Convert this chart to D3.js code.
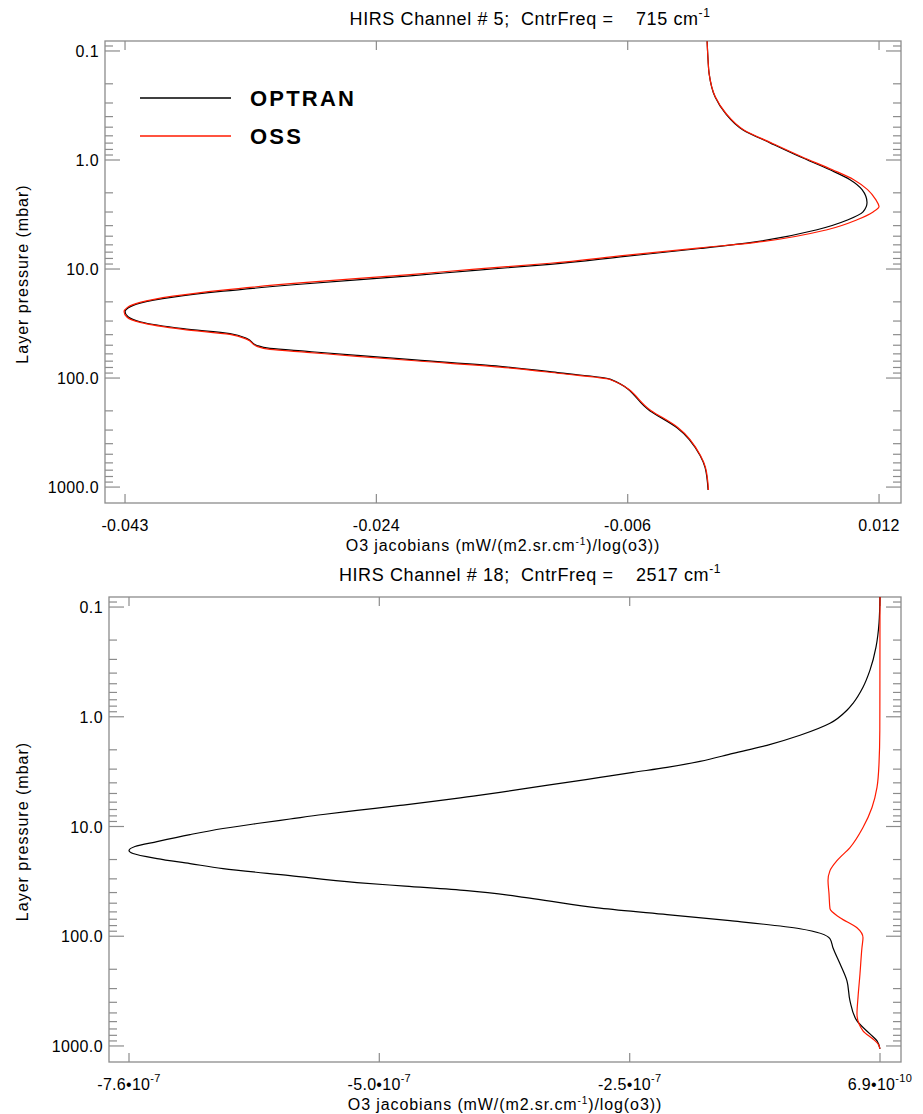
<!DOCTYPE html>
<html>
<head>
<meta charset="utf-8">
<script src="https://cdn.jsdelivr.net/npm/d3@7"></script>
<style>
  body { margin: 0; background: #fff; }
  svg text { font-family: "Liberation Sans", Arial, sans-serif; fill: #000; white-space: pre; }
</style>
</head>
<body>
<svg id="chart" width="923" height="1114"></svg>
<script>
// [pressure (mbar), O3 jacobian]

// HIRS channel 5
const ch5Optran = [
  [0.0815, -0.00040], [0.1216, -0.00033], [0.1598, -0.00026], [0.2646, 0.00018],
  [0.3705, 0.00090], [0.530, 0.00220], [0.696, 0.00416], [0.934, 0.00633],
  [1.229, 0.00850], [1.516, 0.00995], [1.871, 0.01082], [2.457, 0.01118],
  [2.996, 0.01089], [3.534, 0.00981], [4.361, 0.00756], [5.724, 0.00271],
  [6.483, -0.00091], [7.656, -0.00634], [9.062, -0.01177], [10.27, -0.01720],
  [11.56, -0.02191], [13.79, -0.02988], [15.98, -0.03545], [18.13, -0.03907],
  [20.57, -0.04146], [22.75, -0.04233], [24.71, -0.04255], [27.44, -0.04233],
  [30.46, -0.04146], [35.25, -0.03835], [39.13, -0.03495], [43.44, -0.03372],
  [50.24, -0.03299], [53.50, -0.03205], [56.96, -0.02937], [61.96, -0.02575],
  [68.2, -0.02155], [78.04, -0.01539], [89.7, -0.01105], [102.3, -0.00743],
  [200.1, -0.00453], [285.4, -0.00258], [514.0, -0.00091], [661.0, -0.00055],
  [1065, -0.00033]
];
const ch5Oss = [
  [0.0815, -0.00040], [0.1216, -0.00033], [0.1598, -0.00026], [0.2646, 0.00020],
  [0.3705, 0.00094], [0.530, 0.00226], [0.696, 0.00424], [0.934, 0.00645],
  [1.229, 0.00868], [1.516, 0.01022], [1.871, 0.01122], [2.300, 0.01180],
  [2.676, 0.01205], [2.996, 0.01162], [3.534, 0.01046], [4.361, 0.00829],
  [5.724, 0.00300], [6.40, -0.00091], [7.50, -0.00634], [8.85, -0.01177],
  [10.02, -0.01720], [11.25, -0.02191], [13.42, -0.02988], [15.60, -0.03545],
  [17.75, -0.03907], [20.25, -0.04146], [22.60, -0.04240], [24.71, -0.04262],
  [27.70, -0.04240], [30.90, -0.04146], [35.80, -0.03835], [39.80, -0.03495],
  [44.20, -0.03372], [51.20, -0.03299], [54.60, -0.03205], [58.10, -0.02937],
  [63.20, -0.02575], [69.40, -0.02155], [79.30, -0.01539], [90.80, -0.01105],
  [103.0, -0.00743], [199.0, -0.00445], [284.0, -0.00252], [514.0, -0.00088],
  [661.0, -0.00052], [1065, -0.00030]
];

// HIRS channel 18
const ch18Optran = [
  [0.081, 6.8e-10], [0.140, -3e-10], [0.232, -3.35e-9], [0.376, -9.4e-9],
  [0.538, -1.645e-8], [0.753, -2.65e-8], [0.872, -3.26e-8], [1.147, -4.97e-8],
  [1.475, -7.99e-8], [1.821, -1.132e-7], [2.154, -1.474e-7], [2.549, -1.807e-7],
  [2.892, -2.139e-7], [3.212, -2.482e-7], [3.567, -2.814e-7], [3.965, -3.147e-7],
  [4.404, -3.490e-7], [4.892, -3.822e-7], [5.377, -4.154e-7], [5.912, -4.497e-7],
  [6.430, -4.830e-7], [7.143, -5.263e-7], [7.770, -5.605e-7], [8.540, -5.938e-7],
  [9.390, -6.270e-7], [10.43, -6.613e-7], [11.84, -6.945e-7], [13.71, -7.278e-7],
  [15.23, -7.500e-7], [16.56, -7.560e-7], [17.64, -7.520e-7], [19.60, -7.278e-7],
  [21.77, -6.945e-7], [24.18, -6.613e-7], [28.03, -5.938e-7], [32.46, -5.263e-7],
  [34.95, -4.779e-7], [38.41, -4.154e-7], [45.45, -3.490e-7], [55.51, -2.814e-7],
  [63.64, -2.139e-7], [72.18, -1.505e-7], [85.41, -7.99e-8], [105.4, -4.97e-8],
  [127.4, -4.67e-8], [178.3, -3.96e-8], [254.9, -3.26e-8], [388.2, -2.955e-8],
  [591.0, -2.25e-8], [777.0, -9.4e-9], [900.0, -2.3e-9], [1065, 6.9e-10]
];
const ch18Oss = [
  [0.081, 6.9e-10], [0.464, 6.0e-10], [1.328, 5.0e-10], [2.659, -3e-10],
  [4.404, -2.34e-9], [6.707, -7.38e-9], [10.21, -1.645e-8], [15.55, -2.955e-8],
  [20.44, -4.265e-8], [25.23, -4.97e-8], [31.13, -5.17e-8], [40.92, -5.07e-8],
  [56.09, -4.97e-8], [67.79, -3.96e-8], [83.64, -2.25e-8], [103.2, -1.645e-8],
  [127.4, -1.75e-8], [220.0, -1.947e-8], [364.4, -2.15e-8], [510.4, -2.25e-8],
  [729.4, -1.645e-8], [863.4, -6.38e-9], [958.8, -1.33e-9], [1065, 6.9e-10]
];

// axes
const pressureDomain = [0.081, 1400];
const yTickValues = [0.1, 1, 10, 100, 1000];
const yTickLabels = ["0.1", "1.0", "10.0", "100.0", "1000.0"];

const ch5XDomain = [-0.04400, 0.01364];
const ch5XTicks = [-0.04255, -0.02435, -0.00615, 0.01205];
const ch5XLabels = [["-0.043", ""], ["-0.024", ""], ["-0.006", ""], ["0.012", ""]];

const ch18XDomain = [-7.7615e-7, 2.185e-8];
const ch18XTicks = [-7.56e-7, -5.038e-7, -2.515e-7, 6.9e-10];
const ch18XLabels = [["-7.6\u202210", "-7"], ["-5.0\u202210", "-7"], ["-2.5\u202210", "-7"], ["6.9\u202210", "-10"]];

const seriesNames = ["OPTRAN", "OSS"];
const seriesColors = ["#000000", "#ff1a00"];

const svg = d3.select("#chart");
const axisColor = "#8c8c8c";

function drawPanel(cfg) {
  const { left, right, top, bottom } = cfg.box;
  const x = d3.scaleLinear().domain(cfg.xDomain).range([left, right]);
  const y = d3.scaleLog().domain(pressureDomain).range([top, bottom]);
  const g = svg.append("g");

  // title with superscript
  const title = g.append("text")
    .attr("x", 530)
    .attr("y", top - 16)
    .attr("text-anchor", "middle")
    .style("font-size", "18px")
    .style("letter-spacing", "0.6px");
  title.append("tspan").text(cfg.title);
  title.append("tspan").attr("dy", -8).style("font-size", "12px").text("-1");

  // frame
  g.append("rect")
    .attr("x", left).attr("y", top)
    .attr("width", right - left).attr("height", bottom - top)
    .attr("fill", "none").attr("stroke", axisColor).attr("stroke-width", 1.3);

  // y ticks (log, major + minor) on both sides
  const minor = [];
  for (let e = -2; e <= 3; e++) {
    for (let m = 2; m <= 9; m++) {
      const v = m * Math.pow(10, e);
      if (v > pressureDomain[0] && v < pressureDomain[1]) minor.push(v);
    }
  }
  const tickG = g.append("g").attr("stroke", axisColor).attr("stroke-width", 1.2);
  yTickValues.forEach(v => {
    tickG.append("line").attr("x1", left).attr("x2", left + 15).attr("y1", y(v)).attr("y2", y(v));
    tickG.append("line").attr("x1", right).attr("x2", right - 15).attr("y1", y(v)).attr("y2", y(v));
  });
  minor.forEach(v => {
    tickG.append("line").attr("x1", left).attr("x2", left + 8).attr("y1", y(v)).attr("y2", y(v));
    tickG.append("line").attr("x1", right).attr("x2", right - 8).attr("y1", y(v)).attr("y2", y(v));
  });
  cfg.xTicks.forEach(v => {
    tickG.append("line").attr("x1", x(v)).attr("x2", x(v)).attr("y1", bottom).attr("y2", bottom - 9);
    tickG.append("line").attr("x1", x(v)).attr("x2", x(v)).attr("y1", top).attr("y2", top + 9);
  });

  // y tick labels
  g.selectAll(".ylab").data(yTickValues).enter().append("text")
    .attr("x", left - 6)
    .attr("y", d => y(d) + 6)
    .attr("text-anchor", "end")
    .style("font-size", "16px")
    .style("letter-spacing", "0.4px")
    .text((d, i) => yTickLabels[i]);

  // x tick labels (mantissa + optional exponent)
  cfg.xTicks.forEach((v, i) => {
    const t = g.append("text")
      .attr("x", x(v))
      .attr("y", bottom + 28)
      .attr("text-anchor", "middle")
      .style("font-size", "16px")
      .style("letter-spacing", "0.3px");
    t.append("tspan").text(cfg.xLabels[i][0]);
    if (cfg.xLabels[i][1]) {
      t.append("tspan").attr("dy", -8).style("font-size", "11px").text(cfg.xLabels[i][1]);
    }
  });

  // axis titles
  const xt = g.append("text")
    .attr("x", (left + right) / 2)
    .attr("y", bottom + 48)
    .attr("text-anchor", "middle")
    .style("font-size", "16px")
    .style("letter-spacing", "0.9px");
  xt.append("tspan").text("O3 jacobians (mW/(m2.sr.cm");
  xt.append("tspan").attr("dy", -6).style("font-size", "10px").text("-1");
  xt.append("tspan").attr("dy", 6).text(")/log(o3))");

  g.append("text")
    .attr("transform", `translate(28, ${(top + bottom) / 2 + 2}) rotate(-90)`)
    .attr("text-anchor", "middle")
    .style("font-size", "16px")
    .style("letter-spacing", "1px")
    .text("Layer pressure (mbar)");

  // curves
  const line = d3.line().curve(d3.curveMonotoneY).x(d => x(d[1])).y(d => y(d[0]));
  cfg.series.forEach((s, i) => {
    g.append("path")
      .datum(s)
      .attr("fill", "none")
      .attr("stroke", seriesColors[i])
      .attr("stroke-width", 1.2)
      .attr("d", line);
  });

  // legend
  if (cfg.legend) {
    seriesNames.forEach((name, i) => {
      const ly = 98 + i * 38;
      g.append("line").attr("x1", 140).attr("x2", 231).attr("y1", ly).attr("y2", ly)
        .attr("stroke", seriesColors[i]).attr("stroke-width", 1.3);
      g.append("text")
        .attr("x", 250).attr("y", ly + 8)
        .style("font-weight", "bold")
        .style("font-size", "22px")
        .style("letter-spacing", "2.2px")
        .text(name);
    });
  }
}

drawPanel({
  box: { left: 105, right: 901, top: 41, bottom: 503 },
  title: "HIRS Channel # 5;  CntrFreq =    715 cm",
  xDomain: ch5XDomain, xTicks: ch5XTicks, xLabels: ch5XLabels,
  series: [ch5Optran, ch5Oss],
  legend: true
});

drawPanel({
  box: { left: 109, right: 901, top: 597, bottom: 1062 },
  title: "HIRS Channel # 18;  CntrFreq =    2517 cm",
  xDomain: ch18XDomain, xTicks: ch18XTicks, xLabels: ch18XLabels,
  series: [ch18Optran, ch18Oss],
  legend: false
});
</script>
</body>
</html>
